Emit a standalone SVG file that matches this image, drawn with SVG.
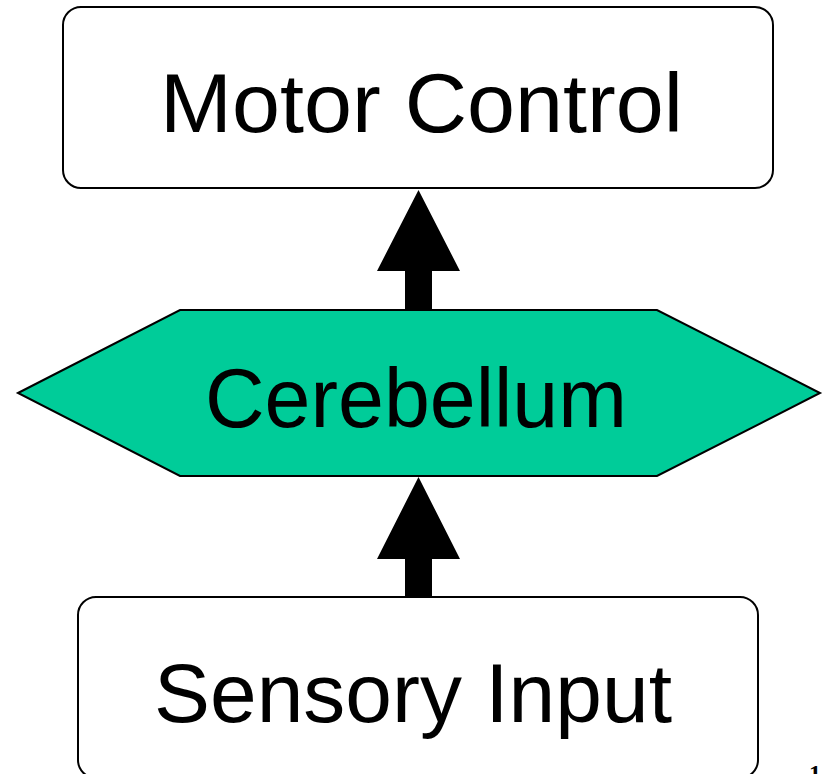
<svg xmlns="http://www.w3.org/2000/svg" width="825" height="774" viewBox="0 0 825 774">
<style>
.box{fill:#fff;stroke:#000;stroke-width:2}
.hex{fill:#00CC99;stroke:#000;stroke-width:2}
.lbl{font-family:"Liberation Sans",Arial,sans-serif;font-size:84px;fill:#000}
.arr{fill:#000}
</style>
<rect width="825" height="774" fill="#fff"/>
<g id="connectors">
<path class="arr" d="M405,309 L405,271 L377,271 L418.5,190 L460,271 L432,271 L432,309 Z"/>
<path class="arr" d="M405,598 L405,559 L377,559 L418.5,477 L460,559 L432,559 L432,598 Z"/>
</g>
<g id="motor">
<rect class="box" x="63" y="7" width="710" height="181" rx="18"/>
<text class="lbl" x="160" y="132" textLength="523" lengthAdjust="spacingAndGlyphs">Motor Control</text>
</g>
<g id="cerebellum">
<polygon class="hex" points="18,393 180,310 657,310 820,393 657,476 180,476"/>
<text class="lbl" x="205" y="427" textLength="422" lengthAdjust="spacingAndGlyphs">Cerebellum</text>
</g>
<g id="sensory">
<rect class="box" x="78" y="597" width="680" height="181" rx="18"/>
<text class="lbl" x="154" y="722" textLength="518" lengthAdjust="spacingAndGlyphs">Sensory Input</text>
</g>
<text x="809" y="781" font-family="Liberation Serif,serif" font-size="24" font-weight="bold" fill="#000">1</text>
</svg>
